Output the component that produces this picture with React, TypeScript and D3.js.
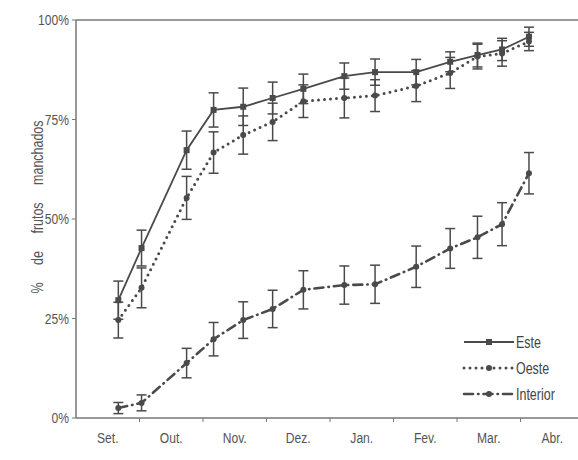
import React from "react"
import * as d3 from "d3"

const months = ["Set.", "Out.", "Nov.", "Dez.", "Jan.", "Fev.", "Mar.", "Abr."]
const yTicks = [0, 25, 50, 75, 100]

const sampleDates = [
  "2000-09-21", "2000-10-02", "2000-10-24", "2000-11-06", "2000-11-20",
  "2000-12-04", "2000-12-19", "2001-01-08", "2001-01-23", "2001-02-11",
  "2001-02-26", "2001-03-11", "2001-03-23", "2001-04-05",
]

const esteValues = [29.6, 42.7, 67.3, 77.4, 78.2, 80.4, 82.7, 85.9, 86.9, 86.9, 89.5, 91.2, 92.6, 95.8]
const esteErrors = [4.8, 4.5, 4.8, 4.3, 4.7, 4.0, 3.7, 3.3, 3.3, 3.2, 2.5, 3.0, 2.8, 2.4]
const oesteValues = [24.6, 32.7, 55.3, 66.7, 71.1, 74.4, 79.6, 80.4, 81.0, 83.4, 86.7, 90.8, 91.6, 94.6]
const oesteErrors = [4.5, 5.0, 5.4, 5.2, 4.8, 4.7, 4.1, 5.0, 4.0, 3.9, 3.9, 3.1, 3.2, 2.3]
const interiorValues = [2.5, 3.8, 13.8, 19.8, 24.6, 27.4, 32.2, 33.4, 33.6, 38.0, 42.6, 45.4, 48.7, 61.5]
const interiorErrors = [1.4, 2.0, 3.7, 4.2, 4.6, 4.7, 4.8, 4.8, 4.8, 5.2, 5.0, 5.3, 5.4, 5.2]

const series = [
  { name: "Este", values: esteValues, errors: esteErrors, dash: null, width: 1.8, marker: "square" },
  { name: "Oeste", values: oesteValues, errors: oesteErrors, dash: "0,6", width: 3, marker: "circle" },
  { name: "Interior", values: interiorValues, errors: interiorErrors, dash: "9,5,0.5,5", width: 2.6, marker: "circle" },
]

// position in "months since 1 Sep", each month drawn with the same width
const monthPos = (iso: string) => {
  const dt = d3.timeParse("%Y-%m-%d")(iso) as Date
  const start = d3.timeMonth.floor(dt)
  const days = d3.timeDay.count(start, d3.timeMonth.offset(start, 1))
  const idx = (dt.getMonth() - 8 + 12) % 12
  return idx + (dt.getDate() - 1) / days
}

const W = 578
const H = 460
const FONT = "'Liberation Sans', Arial, sans-serif"
const INK = "#4a4a4a"
const NARROW = 0.78

// condensed text: the scan uses a narrow face, so squeeze horizontally
const Narrow = ({ x, y, rotate = 0, anchor = "start", size = 15, fill = "#555", children, ...rest }: any) => (
  <text
    transform={`translate(${x},${y}) rotate(${rotate}) scale(${NARROW},1)`}
    textAnchor={anchor}
    dy="0.35em"
    fontSize={size}
    fill={fill}
    {...rest}
  >
    {children}
  </text>
)

export default function App() {
  const x = d3.scaleLinear().domain([0, 8]).range([76, 584])
  const y = d3.scaleLinear().domain([0, 100]).range([418, 20])
  const xs = sampleDates.map(monthPos)

  const line = d3
    .line<number>()
    .x((_, i) => x(xs[i]))
    .y(d => y(d))

  const marker = (kind: string, cx: number, cy: number, key: string | number) =>
    kind === "square" ? (
      <rect key={key} x={cx - 3} y={cy - 3} width={6} height={6} fill={INK} />
    ) : (
      <circle key={key} cx={cx} cy={cy} r={3} fill={INK} />
    )

  return (
    <svg
      width={W}
      height={H}
      style={{ position: "absolute", left: 0, top: 0, background: "#fff" }}
      fontFamily={FONT}
    >
      {/* frame */}
      <line x1={76} x2={W} y1={y(100)} y2={y(100)} stroke="#9a9a9a" strokeWidth={2} />
      <line x1={76} x2={76} y1={y(100)} y2={y(0)} stroke="#777" strokeWidth={1.5} />
      <line x1={76} x2={W} y1={y(0)} y2={y(0)} stroke="#777" strokeWidth={1.5} />

      {/* y axis */}
      {yTicks.map(t => (
        <g key={t}>
          <line x1={72} x2={76} y1={y(t)} y2={y(t)} stroke="#777" strokeWidth={1} />
          <Narrow x={69} y={y(t)} anchor="end" size={15.5}>
            {t}%
          </Narrow>
        </g>
      ))}
      <Narrow x={37} y={207} rotate={-90} anchor="middle" size={16} wordSpacing={18}>
        % de frutos manchados
      </Narrow>

      {/* x axis */}
      {d3.range(1, 8).map(m => (
        <line key={m} x1={x(m)} x2={x(m)} y1={y(0)} y2={y(0) + 4} stroke="#777" strokeWidth={1} />
      ))}
      {months.map((m, i) => (
        <Narrow key={m} x={x(i + 0.5)} y={438} anchor="middle" size={15.5}>
          {m}
        </Narrow>
      ))}

      {/* series */}
      {series.map(s => (
        <g key={s.name}>
          <path
            d={line(s.values) ?? ""}
            fill="none"
            stroke={INK}
            strokeWidth={s.width}
            strokeDasharray={s.dash ?? undefined}
            strokeLinecap={s.dash ? "round" : "butt"}
          />
          {s.values.map((v, i) => {
            const cx = x(xs[i])
            const top = y(v + s.errors[i])
            const bot = y(v - s.errors[i])
            return (
              <g key={i} stroke={INK} strokeWidth={1.5}>
                <line x1={cx} x2={cx} y1={top} y2={bot} />
                <line x1={cx - 5} x2={cx + 5} y1={top} y2={top} />
                <line x1={cx - 5} x2={cx + 5} y1={bot} y2={bot} />
              </g>
            )
          })}
          {s.values.map((v, i) => marker(s.marker, x(xs[i]), y(v), i))}
        </g>
      ))}

      {/* legend */}
      {series.map((s, i) => {
        const ly = 342 + i * 26
        return (
          <g key={s.name}>
            <line
              x1={464}
              x2={514}
              y1={ly}
              y2={ly}
              stroke={INK}
              strokeWidth={s.width}
              strokeDasharray={s.dash ?? undefined}
              strokeLinecap={s.dash ? "round" : "butt"}
            />
            {marker(s.marker, 489, ly, "m")}
            <Narrow x={516} y={ly} size={16} fill="#444">
              {s.name}
            </Narrow>
          </g>
        )
      })}
    </svg>
  )
}
